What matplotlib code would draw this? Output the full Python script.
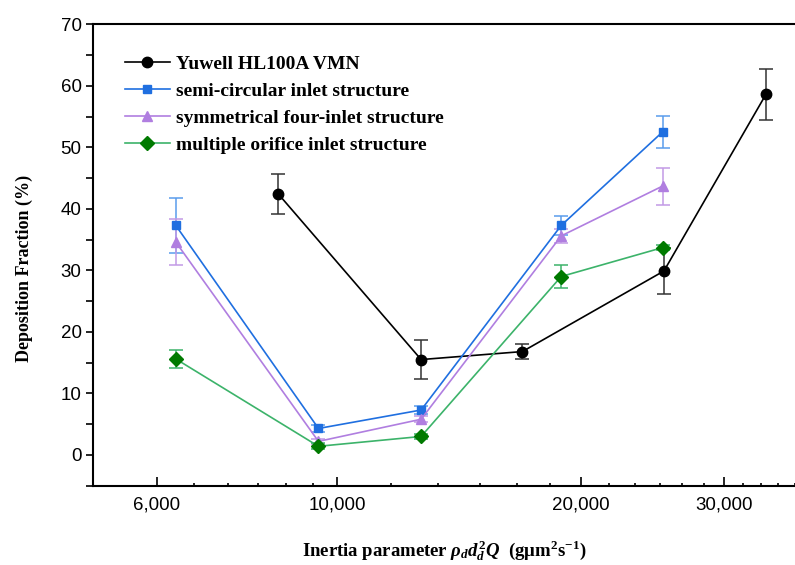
import matplotlib
matplotlib.use("Agg")
import matplotlib.pyplot as plt
from matplotlib.lines import Line2D
from matplotlib.ticker import FixedLocator, FuncFormatter, NullFormatter

# Data
x_yuwell = [8470, 12700, 16930, 25300, 33790]
y_yuwell = [42.4, 15.5, 16.8, 29.9, 58.6]
e_yuwell = [3.3, 3.2, 1.2, 3.8, 4.2]

x_struct = [6330, 9490, 12700, 18900, 25200]
y_semi = [37.3, 4.3, 7.3, 37.3, 52.5]
e_semi = [4.5, 0.6, 0.6, 1.5, 2.6]
y_sym = [34.6, 2.2, 5.8, 35.6, 43.7]
e_sym = [3.7, 0.4, 0.5, 1.2, 3.0]
y_multi = [15.6, 1.4, 3.0, 29.0, 33.7]
e_multi = [1.4, 0.5, 0.4, 1.8, 0.4]

labels = ["Yuwell HL100A VMN", "semi-circular inlet structure",
          "symmetrical four-inlet structure", "multiple orifice inlet structure"]
x_major = [6000, 10000, 20000, 30000]

plt.rcParams['mathtext.fontset'] = 'custom'
plt.rcParams['mathtext.rm'] = 'Liberation Serif:bold'
plt.rcParams['mathtext.it'] = 'Liberation Serif:italic:bold'
plt.rcParams['mathtext.bf'] = 'Liberation Serif:bold'

fig = plt.figure(figsize=(7.95, 5.65), dpi=100)
ax = fig.add_axes([0.1166, 0.1404, 0.8834, 0.8166])

styles = [
    dict(color='black', ecolor='#333333', marker='o', markersize=7.5),
    dict(color='#1f6fe0', ecolor='#5a9cec', marker='s', markersize=6),
    dict(color='#b07ee0', ecolor='#c29ae6', marker='^', markersize=7.5),
    dict(color='#3cb36a', ecolor='#3cb36a', marker='D', markersize=7.5,
         markerfacecolor='#007a00', markeredgecolor='#007a00'),
]
series = [(x_yuwell, y_yuwell, e_yuwell), (x_struct, y_semi, e_semi),
          (x_struct, y_sym, e_sym), (x_struct, y_multi, e_multi)]

handles = []
for (xs, ys, es), st, lab in zip(series, styles, labels):
    ax.errorbar(xs, ys, yerr=es, linewidth=1.2, elinewidth=1.1,
                capsize=5, capthick=1.1, zorder=3, **st)
    kw = {k: v for k, v in st.items() if k != 'ecolor'}
    handles.append(Line2D([], [], linewidth=1.2, label=lab, **kw))

ax.set_xscale('log')
ax.set_xlim(5000, 36700)
ax.set_ylim(-5, 70)

ax.xaxis.set_major_locator(FixedLocator(x_major))
ax.xaxis.set_major_formatter(FuncFormatter(lambda v, p: f"{int(round(v)):,}"))
minors = []
for a, b in zip(x_major, x_major[1:] + [40000]):
    step = (b - a) / 6
    minors += [a + k * step for k in range(1, 6)]
ax.xaxis.set_minor_locator(FixedLocator(minors))
ax.xaxis.set_minor_formatter(NullFormatter())

ax.set_yticks(range(0, 71, 10))
ax.set_yticks(range(-5, 70, 5), minor=True)

ax.tick_params(which='both', top=False, right=False, width=1.2,
               labelsize=13.5, labelfontfamily='Liberation Sans')
ax.tick_params(axis='x', which='both', direction='in', pad=8)
ax.tick_params(axis='x', which='major', length=6.5)
ax.tick_params(axis='x', which='minor', length=2.5)
ax.tick_params(axis='y', which='both', direction='out', length=5, pad=3)
ax.spines['right'].set_visible(False)
for s in ['left', 'bottom', 'top']:
    ax.spines[s].set_linewidth(1.5)

ax.set_ylabel("Deposition Fraction (%)", fontfamily='Liberation Serif',
              fontweight='bold', fontsize=13)
ax.yaxis.set_label_coords(-0.085, 0.47)
ax.set_xlabel(r"Inertia parameter $\rho_d d_d^2Q$  (g$\mathrm{\mu}$m$^2$s$^{-1}$)",
              fontfamily='Liberation Serif', fontweight='bold', fontsize=13.5,
              labelpad=18)

ax.legend(handles=handles, loc='upper left', bbox_to_anchor=(0.046, 0.932),
          frameon=False, borderpad=0, borderaxespad=0,
          prop={'family': 'Liberation Serif', 'weight': 'bold', 'size': 14},
          handlelength=2.3, labelspacing=0.48, handletextpad=0.3)

fig.savefig("out.png", dpi=100)
